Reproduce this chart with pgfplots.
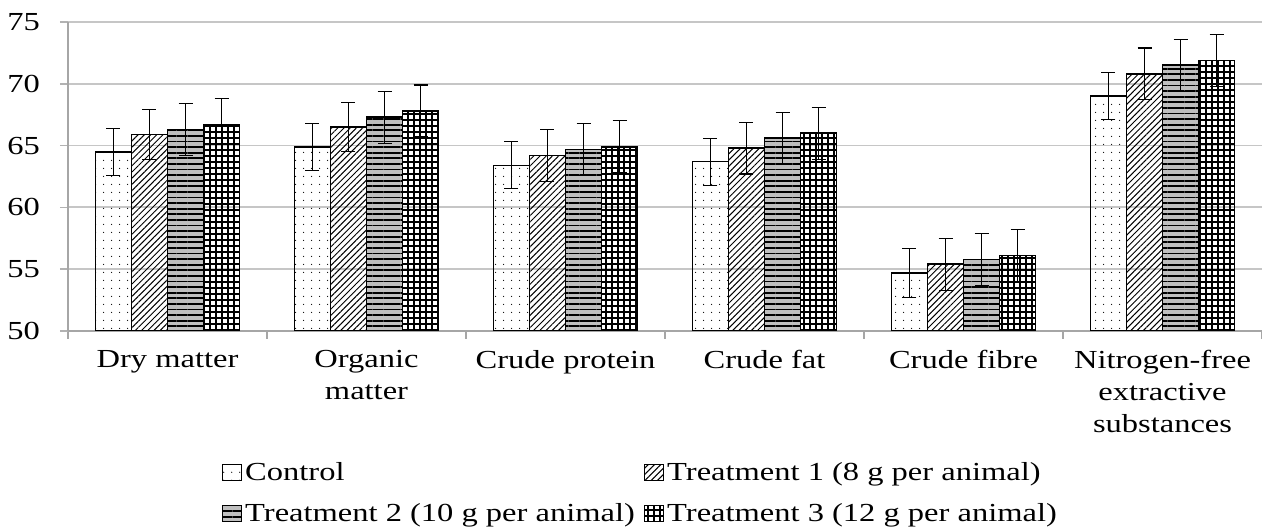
\documentclass[border=0pt]{standalone}
\usepackage{pgfplots}
\pgfplotsset{compat=1.18}
\usepackage{pgfplotstable}
\usepackage{fontspec}
\setmainfont{Liberation Serif}[FakeStretch=1.25]
\usetikzlibrary{patterns.meta}

\pgfplotstableread{
x y e
0 64.5 1.9
1 64.9 1.9
2 63.4 1.9
3 63.7 1.9
4 54.7 2.0
5 69.0 1.9
}\ctrl
\pgfplotstableread{
x y e
0 65.9 2.0
1 66.5 2.0
2 64.2 2.1
3 64.8 2.1
4 55.4 2.1
5 70.8 2.1
}\tone
\pgfplotstableread{
x y e
0 66.3 2.1
1 67.3 2.1
2 64.7 2.1
3 65.6 2.1
4 55.8 2.1
5 71.5 2.1
}\ttwo
\pgfplotstableread{
x y e
0 66.7 2.1
1 67.8 2.1
2 64.9 2.1
3 66.0 2.1
4 56.1 2.1
5 71.9 2.1
}\tthree

\pgfplotsset{
  myleg/.style={legend image code/.code={\draw[##1, draw=black, line width=0.7pt] (0pt,-4pt) rectangle (9.5pt,4pt);}},
}

\begin{document}
\begin{tikzpicture}[font=\fontsize{13}{16}\selectfont]
\begin{axis}[
  at={(0,0)}, anchor=south west,
  scale only axis, width=597pt, height=154.5pt,
  xmin=-0.5, xmax=5.5, ymin=50, ymax=75,
  ybar=0pt, bar width=0.181, bar shift=0pt,
  axis x line*=bottom, axis y line*=left,
  axis line style={gray!70, line width=0.8pt},
  ytick={50,55,...,75},
  ymajorgrids, grid style={gray!45, line width=0.9pt},
  tick align=outside,
  major tick length=4pt, minor tick length=4pt,
  xtick={0,...,5},
  xticklabels={Dry matter,{Organic\\matter},Crude protein,Crude fat,Crude fibre,{Nitrogen-free\\extractive\\substances}},
  xticklabel style={align=center, yshift=-2pt},
  yticklabel style={xshift=-6.5pt},
  minor xtick={-0.5,0.5,...,5.5},
  major x tick style={draw=none},
  minor x tick style={gray!70, line width=0.8pt},
  major y tick style={gray!60, line width=0.8pt},
  /pgf/number format/assume math mode=true,
  legend columns=2,
  legend style={draw=none, fill=none, inner sep=0pt, at={(0.1285,-0.413)}, anchor=north west,
    nodes={inner sep=1.5pt},
    /tikz/every even column/.append style={column sep=3pt},
    row sep=7pt},
  legend cell align=left,
  error bars/y dir=both, error bars/y explicit,
  error bars/error bar style={black, line width=0.6pt},
  error bars/error mark options={rotate=90, mark size=3.5pt, black, line width=0.6pt},
]
\addplot[draw=black, line width=0.8pt, pattern={Dots[radius=0.35pt, distance=4pt]}, myleg]
  table[x expr=\thisrow{x}-0.2715, y=y, y error=e]{\ctrl};
\addlegendentry{Control}
\addplot[draw=black, line width=0.8pt, pattern={Lines[angle=45, distance=2.2pt, line width=0.5pt]}, myleg]
  table[x expr=\thisrow{x}-0.0905, y=y, y error=e]{\tone};
\addlegendentry{Treatment 1 (8 g per animal)}
\addplot[draw=black, line width=0.8pt, preaction={fill=gray!50}, pattern={Lines[angle=0, distance=2.8pt, line width=0.9pt]}, myleg]
  table[x expr=\thisrow{x}+0.0905, y=y, y error=e]{\ttwo};
\addlegendentry{Treatment 2 (10 g per animal)}
\addplot[draw=black, line width=0.8pt, pattern={Hatch[angle=0, distance=3pt, line width=0.6pt]}, myleg]
  table[x expr=\thisrow{x}+0.2715, y=y, y error=e]{\tthree};
\addlegendentry{Treatment 3 (12 g per animal)}
\end{axis}
\pgfresetboundingbox
\path (-34pt,-98.5pt) rectangle (597pt,165.5pt);
\end{tikzpicture}
\end{document}
